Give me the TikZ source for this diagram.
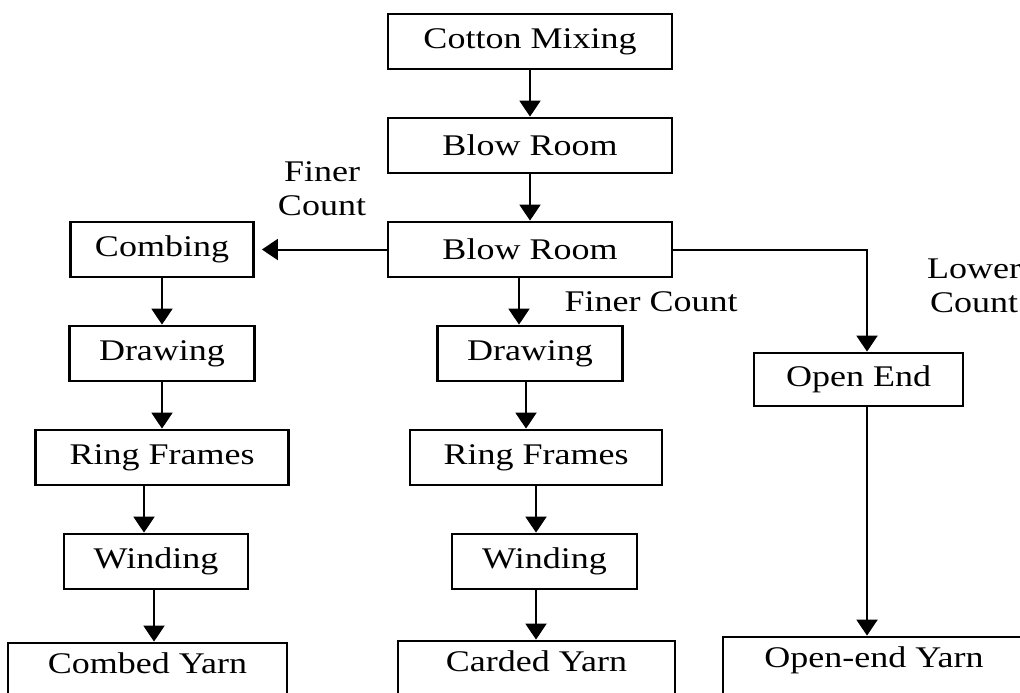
\documentclass[tikz,border=0pt]{standalone}
\usepackage{fontspec}
\setmainfont{Liberation Serif}[FakeStretch=1.2]
\usetikzlibrary{arrows.meta}

\begin{document}
\begin{tikzpicture}[x=0.5pt, y=-0.5pt, node distance=52pt,
    font=\fontsize{15}{17}\selectfont,
    stage/.style={draw, line width=1.4pt, inner sep=0pt, minimum height=27.5pt},
    yarn/.style={stage, minimum height=0pt, inner ysep=4pt, text height=11pt, text depth=14pt},
    flow/.style={line width=1pt, -{Triangle[length=8pt, width=10.5pt]}}]
                \useasboundingbox (0,0) rectangle (1020,692);

                % main line
                \node[stage, minimum width=142pt] (mix) at (530,41.5) {Cotton Mixing};
                \node[stage, minimum width=142pt, below of=mix] (blowA) {Blow Room};
                \node[stage, minimum width=142pt, below of=blowA] (blowB) {Blow Room};

                % combed yarn
                \node[stage, minimum width=91.5pt, left of=blowB, node distance=184pt] (comb) {Combing};
                \node[stage, minimum width=92.5pt, below of=comb] (drawL) {Drawing};
                \node[stage, minimum width=126.5pt, below of=drawL] (ringL) {Ring Frames};
                \node[stage, minimum width=92pt, below of=ringL, xshift=-3pt] (windL) {Winding};
                \node[yarn, minimum width=139.5pt, below of=windL, node distance=57.25pt, xshift=-4.25pt] (combed) {Combed Yarn};

                % carded yarn
                \node[stage, minimum width=92.5pt, below of=blowB] (drawM) {Drawing};
                \node[stage, minimum width=126pt, below of=drawM, xshift=3pt] (ringM) {Ring Frames};
                \node[stage, minimum width=92.5pt, below of=ringM, xshift=4.25pt] (windM) {Winding};
                \node[yarn, minimum width=138.5pt, below of=windM, node distance=56.25pt, xshift=-4pt] (carded) {Carded Yarn};

                % open-end yarn
                \node[stage, minimum width=104.5pt, minimum height=26.5pt, right of=blowB, node distance=164.25pt, yshift=-65pt] (openE) {Open End};
                \node[yarn, minimum width=151pt, below of=openE, node distance=145.25pt, xshift=7.75pt] (openY) {Open-end Yarn};

                % labels
                \node[align=center] (finerA) at (322,189) {Finer\\Count};
                \node (finerB) at (651,302) {Finer Count};
                \node[align=center] (lower) at (974,286) {Lower\\Count};

                \draw[flow] (mix) -- (blowA);
                \draw[flow] (blowA) -- (blowB);
                \draw[flow, shorten >=3.5pt] (blowB) -- (comb);
                \draw[flow] ([xshift=-5.5pt]blowB.south) -- ([xshift=-5.5pt]blowB.south |- drawM.north);
                \draw[flow] (blowB.east) -| ([xshift=4.25pt]openE.north);

                \draw[flow] (comb.south) -- (comb.south |- drawL.north);
                \draw[flow] (drawL.south) -- (drawL.south |- ringL.north);
                \draw[flow] ([xshift=-9pt]ringL.south) -- ([xshift=-9pt]ringL.south |- windL.north);
                \draw[flow] ([xshift=-1pt]windL.south) -- ([xshift=-1pt]windL.south |- combed.north);

                \draw[flow] ([xshift=-2pt]drawM.south) -- ([xshift=-2pt]drawM.south |- ringM.north);
                \draw[flow] (ringM.south) -- (ringM.south |- windM.north);
                \draw[flow] ([xshift=-4.25pt]windM.south) -- ([xshift=-4.25pt]windM.south |- carded.north);

                \draw[flow] ([xshift=4.25pt]openE.south) -- ([xshift=4.25pt]openE.south |- openY.north);
            \end{tikzpicture}
\end{document}
